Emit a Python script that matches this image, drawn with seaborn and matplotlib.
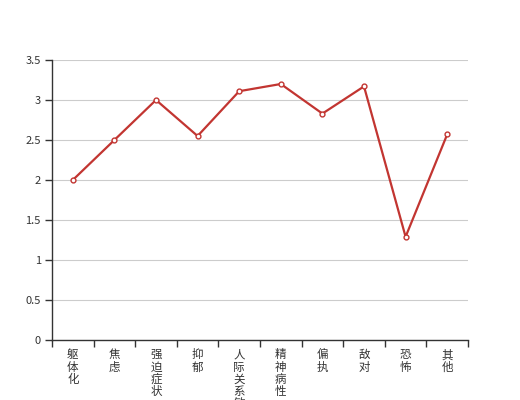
import matplotlib.pyplot as plt
import pandas as pd
import seaborn as sns
import numpy as np

categories = ['躯体化', '焦虑', '强迫症状', '抑郁', '人际关系敏感', '精神病性', '偏执', '敌对', '恐怖', '其他']
scores = [2.0, 2.5, 3.0, 2.55, 3.11, 3.2, 2.83, 3.17, 1.29, 2.57]
y_ticks = [0, 0.5, 1, 1.5, 2, 2.5, 3, 3.5]
y_labels = ['0', '0.5', '1', '1.5', '2', '2.5', '3', '3.5']

df = pd.DataFrame({'category': categories, 'score': scores})
df['pos'] = np.arange(len(categories))

sns.set_style("white")
plt.rcParams['font.family'] = ['Noto Sans CJK SC', 'DejaVu Sans']

fig = plt.figure(figsize=(5.2, 4), dpi=100)
ax = fig.add_axes([52 / 520, 60 / 400, 416 / 520, 280 / 400])

line_color = '#c23531'
sns.lineplot(ax=ax, data=df, x='pos', y='score', color=line_color, linewidth=1.6,
             marker='o', markersize=3.5, markerfacecolor='white',
             markeredgecolor=line_color, markeredgewidth=1, zorder=3)

ax.set_xlim(-0.5, len(categories) - 0.5)
ax.set_ylim(0, 3.5)
ax.set_yticks(y_ticks)
ax.set_yticklabels(y_labels, fontsize=8, color='#333333')
ax.yaxis.grid(True, color='#cccccc', linewidth=0.8)
ax.set_axisbelow(True)

# category labels, one character per line
ax.set_xticks(df['pos'])
ax.set_xticklabels(['\n'.join(c) for c in categories], fontsize=8.3, color='#333333',
                   linespacing=0.93, va='top')
ax.tick_params(axis='x', which='major', bottom=False, length=0, pad=6)
ax.set_xticks(np.arange(-0.5, len(categories)), minor=True)
ax.tick_params(axis='x', which='minor', bottom=True, length=5, color='#333333', width=1)
ax.tick_params(axis='y', left=True, length=5, color='#333333', width=1, pad=3)

for side in ['top', 'right']:
    ax.spines[side].set_visible(False)
for side in ['left', 'bottom']:
    ax.spines[side].set_color('#333333')
    ax.spines[side].set_linewidth(1)

ax.set_xlabel('')
ax.set_ylabel('')

fig.savefig('out.png', dpi=100)
